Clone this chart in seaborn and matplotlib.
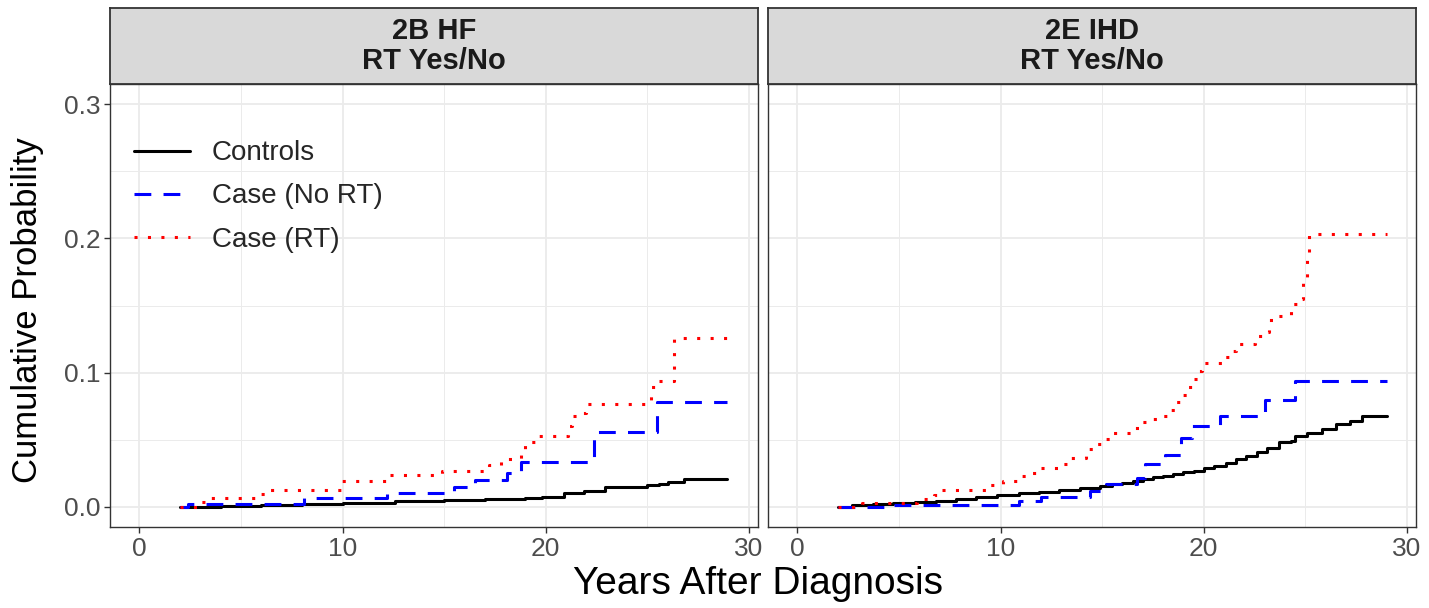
import matplotlib
matplotlib.use("Agg")
import matplotlib.pyplot as plt
import seaborn as sns
import pandas as pd
import numpy as np
from matplotlib.lines import Line2D

# ---------------- data ----------------
panels = ["2B HF\nRT Yes/No", "2E IHD\nRT Yes/No"]
groups = ["Controls", "Case (No RT)", "Case (RT)"]

hf_controls_x = [2.0, 4.0, 6.0, 8.0, 10.0, 12.6, 15.0, 17.0, 19.0, 19.8, 20.9, 21.9, 22.9, 25.0, 25.6, 26.0, 26.8, 28.9]
hf_controls_y = [0.0, 0.0007, 0.0013, 0.002, 0.0027, 0.004, 0.0048, 0.0055, 0.0065, 0.0074, 0.0106, 0.012, 0.015, 0.016, 0.017, 0.0185, 0.021, 0.021]

hf_nort_x = [2.0, 2.4, 8.1, 12.2, 15.5, 16.5, 18.1, 18.8, 22.4, 25.5, 28.9]
hf_nort_y = [0.0, 0.0025, 0.0069, 0.0104, 0.0148, 0.020, 0.025, 0.0333, 0.0556, 0.0778, 0.0778]

hf_rt_x = [2.0, 3.0, 3.4, 6.0, 6.3, 9.9, 12.2, 14.9, 17.2, 17.8, 18.8, 19.0, 19.5, 21.1, 21.3, 21.8, 22.0, 25.2, 25.5, 26.3, 28.9]
hf_rt_y = [0.0, 0.0035, 0.0064, 0.0096, 0.0128, 0.0195, 0.0235, 0.027, 0.031, 0.036, 0.042, 0.048, 0.0526, 0.060, 0.068, 0.070, 0.0765, 0.089, 0.094, 0.126, 0.126]

ihd_controls_x = [2.0, 2.7, 3.7, 4.7, 5.8, 6.8, 7.8, 8.8, 9.8, 10.9, 11.9, 12.9, 13.9, 14.9, 15.5, 16.0, 16.5, 17.0, 17.5, 18.0, 18.5, 19.0, 19.5, 20.0, 20.5, 21.1, 21.6, 22.1, 22.6, 23.1, 23.7, 24.3, 24.5, 25.1, 25.8, 26.5, 27.2, 27.8, 29.0]
ihd_controls_y = [0.0, 0.0012, 0.002, 0.003, 0.0038, 0.0047, 0.006, 0.0075, 0.0088, 0.010, 0.0112, 0.0124, 0.0138, 0.0154, 0.0167, 0.018, 0.0195, 0.021, 0.022, 0.023, 0.0245, 0.026, 0.027, 0.0286, 0.0305, 0.033, 0.0355, 0.038, 0.041, 0.044, 0.048, 0.049, 0.053, 0.055, 0.058, 0.062, 0.064, 0.0677, 0.0677]

ihd_nort_x = [2.0, 4.3, 10.9, 12.0, 14.4, 15.2, 16.7, 17.1, 18.1, 18.9, 19.4, 20.8, 23.0, 24.5, 29.0]
ihd_nort_y = [0.0, 0.0017, 0.0042, 0.0075, 0.0117, 0.0167, 0.0216, 0.032, 0.039, 0.0515, 0.060, 0.0677, 0.0796, 0.0938, 0.0938]

ihd_rt_x = [2.0, 3.2, 5.9, 6.7, 7.1, 9.5, 10.1, 11.0, 11.5, 11.9, 12.9, 13.3, 14.2, 14.6, 15.0, 15.4, 16.5, 16.9, 17.4, 17.8, 18.3, 18.6, 18.9, 19.2, 19.5, 19.7, 19.9, 20.9, 21.3, 21.6, 22.5, 22.9, 23.2, 23.6, 24.3, 24.7, 24.9, 25.1, 25.2, 29.0]
ihd_rt_y = [0.0, 0.003, 0.006, 0.009, 0.0124, 0.016, 0.019, 0.023, 0.025, 0.029, 0.0316, 0.0366, 0.043, 0.047, 0.0505, 0.055, 0.059, 0.063, 0.0652, 0.068, 0.072, 0.078, 0.083, 0.089, 0.095, 0.101, 0.1075, 0.112, 0.116, 0.121, 0.127, 0.130, 0.139, 0.142, 0.151, 0.155, 0.167, 0.190, 0.203, 0.203]

x_ticks = [0, 10, 20, 30]
y_ticks = [0.0, 0.1, 0.2, 0.3]
y_tick_labels = ["0.0", "0.1", "0.2", "0.3"]

series = {
    panels[0]: {groups[0]: (hf_controls_x, hf_controls_y),
                groups[1]: (hf_nort_x, hf_nort_y),
                groups[2]: (hf_rt_x, hf_rt_y)},
    panels[1]: {groups[0]: (ihd_controls_x, ihd_controls_y),
                groups[1]: (ihd_nort_x, ihd_nort_y),
                groups[2]: (ihd_rt_x, ihd_rt_y)},
}
rows = []
for p, gd in series.items():
    for g, (xs, ys) in gd.items():
        for xv, yv in zip(xs, ys):
            rows.append({"panel": p, "group": g, "years": xv, "prob": yv})
df = pd.DataFrame(rows)

# ---------------- style ----------------
sns.set_theme(style="white")
plt.rcParams["font.family"] = ["Liberation Sans", "DejaVu Sans"]

colors = {groups[0]: "black", groups[1]: "#0000FF", groups[2]: "#FF0000"}
LW = 2.2
dash_patterns = {groups[0]: None, groups[1]: (5.5, 4.0), groups[2]: (1.0, 3.4)}

W, H = 1429, 608
fig = plt.figure(figsize=(W / 100, H / 100), dpi=100)

panel_left = [110, 768]
panel_w = 648
top_px, bottom_px = 84, 527
strip_top = 8

axes = []
for i, p in enumerate(panels):
    l = panel_left[i] / W
    b = 1 - bottom_px / H
    ax = fig.add_axes([l, b, panel_w / W, (bottom_px - top_px) / H])
    axes.append(ax)
    sub = df[df["panel"] == p]
    for g in groups:
        d = sub[sub["group"] == g]
        sns.lineplot(data=d, x="years", y="prob", ax=ax, color=colors[g],
                     estimator=None, sort=False, drawstyle="steps-post",
                     linewidth=LW, legend=False)
        ln = ax.lines[-1]
        if dash_patterns[g] is not None:
            ln.set_dashes(dash_patterns[g])
            ln.set_dash_capstyle("butt")
    ax.set_xlim(-1.45, 30.45)
    ax.set_ylim(-0.015, 0.315)
    ax.set_xticks(x_ticks)
    ax.set_xticks([5, 15, 25], minor=True)
    ax.set_yticks(y_ticks)
    ax.set_yticks([0.05, 0.15, 0.25], minor=True)
    ax.grid(True, which="major", color="#EBEBEB", linewidth=1.3)
    ax.grid(True, which="minor", color="#EBEBEB", linewidth=0.7)
    ax.set_axisbelow(True)
    for s in ax.spines.values():
        s.set_color("#333333")
        s.set_linewidth(1.0)
        s.set_visible(True)
    ax.set_xlabel("")
    ax.set_ylabel("")
    ax.tick_params(axis="both", which="major", length=4.5, width=1.0, color="#333333",
                   labelsize=19, labelcolor="#4D4D4D", pad=2.5)
    ax.tick_params(axis="both", which="minor", length=0)
    ax.tick_params(axis="x", which="major", bottom=True)
    if i == 0:
        ax.set_yticklabels(y_tick_labels)
        ax.tick_params(axis="y", which="major", left=True)
    else:
        ax.tick_params(axis="y", which="major", left=False, labelleft=False)

    # strip
    sax = fig.add_axes([l, 1 - top_px / H, panel_w / W, (top_px - strip_top) / H])
    sax.set_facecolor("#D9D9D9")
    sax.set_xticks([])
    sax.set_yticks([])
    for s in sax.spines.values():
        s.set_color("#333333")
        s.set_linewidth(1.3)
    sax.text(0.5, 0.5, p, ha="center", va="center", fontsize=21, fontweight="bold",
             color="#1A1A1A", linespacing=1.1, transform=sax.transAxes)

# legend
handles = []
for g in groups:
    h = Line2D([0], [0], color=colors[g], linewidth=LW)
    if dash_patterns[g] is not None:
        h.set_dashes(dash_patterns[g])
        h.set_dash_capstyle("butt")
    handles.append(h)
axes[0].legend(handles, groups, loc="upper left", bbox_to_anchor=(0.037, 0.873),
               frameon=False, fontsize=20, handlelength=2.0, handletextpad=0.8,
               labelspacing=0.62, borderaxespad=0, borderpad=0)

fig.text(758 / W, 1 - 594 / H, "Years After Diagnosis", ha="center", va="baseline",
         fontsize=28, color="black")
fig.text(28 / W, 1 - 310 / H, "Cumulative Probability", ha="center", va="center",
         rotation=90, fontsize=25, color="black")

fig.savefig("out.png", dpi=100, facecolor="white")
